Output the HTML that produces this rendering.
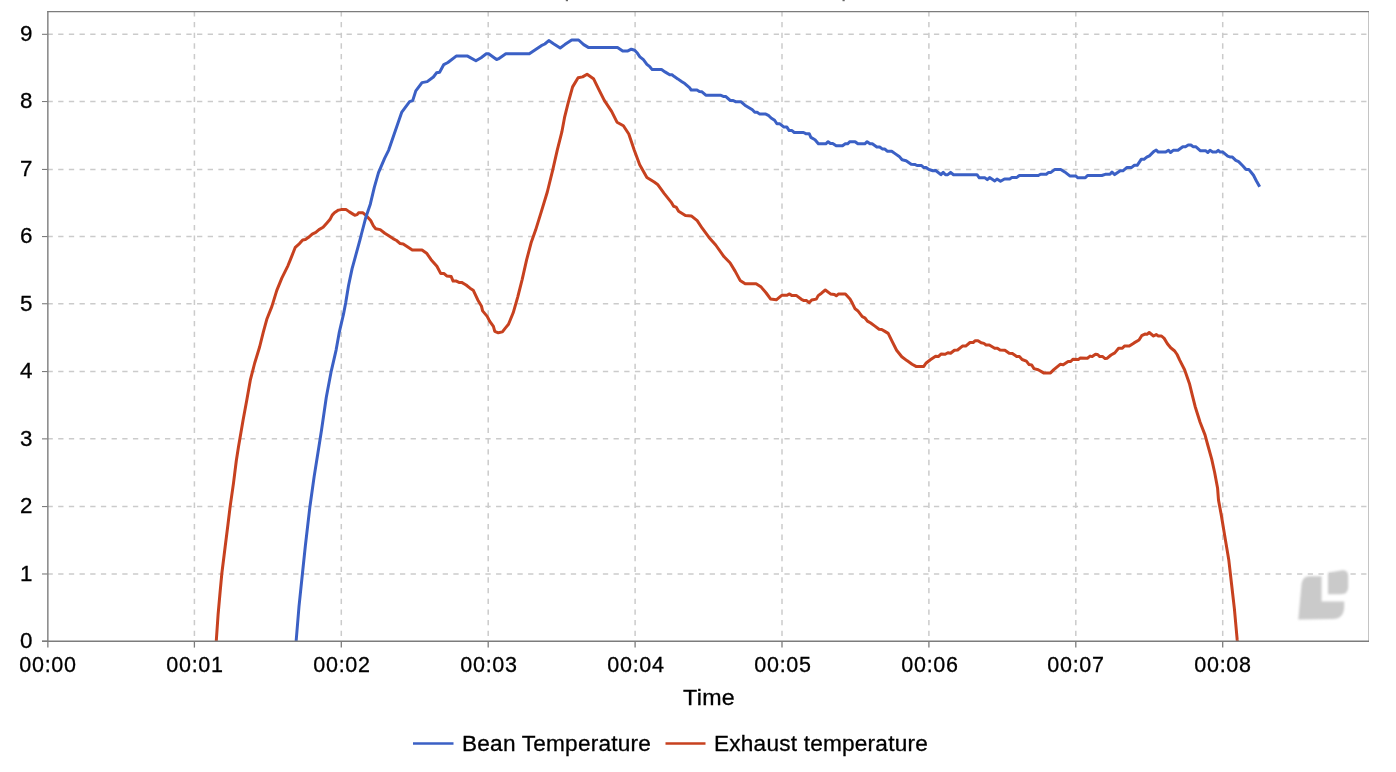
<!DOCTYPE html>
<html><head><meta charset="utf-8"><style>
html,body{margin:0;padding:0;background:#fff;width:1396px;height:772px;overflow:hidden;}
#c{position:relative;width:1396px;height:772px;}
svg{position:absolute;left:0;top:0;}
.t{position:absolute;font-family:"Liberation Sans",sans-serif;font-size:21.5px;color:#000;line-height:22px;white-space:nowrap;will-change:transform;-webkit-text-stroke:0.3px #000;}
.yl{left:0;width:32.5px;text-align:right;transform:scaleX(1.04);transform-origin:32.5px 0;}
.xl{width:100px;text-align:center;letter-spacing:0.7px;}
#time{letter-spacing:0.3px;}
#lg1{letter-spacing:0.2px;transform:scaleX(1.052);transform-origin:0 0;}
#lg2{letter-spacing:0.2px;transform:scaleX(1.052);transform-origin:0 0;}
#time{transform:scaleX(1.08);transform-origin:0 0;}
</style></head><body><div id="c">
<svg width="1396" height="772" viewBox="0 0 1396 772">
<defs><filter id="bl" x="-20%" y="-20%" width="140%" height="140%"><feGaussianBlur stdDeviation="0.8"/></filter></defs>
<g fill="#cacaca" filter="url(#bl)"><path d="M1309,576.2 L1321.6,576.2 L1321.6,601.5 L1344.2,601.5 L1344.2,607.5 Q1343.5,618.8 1333,619 L1298.3,619.5 L1301.6,583.5 Q1302.8,576.4 1309,576.2 Z"/><path d="M1328,572.8 L1341,570.4 Q1348.2,569.6 1348.2,576 L1348.2,587.5 Q1347.8,594.3 1341,594.3 L1328,594.3 Z"/></g>
<line x1="48" y1="573.98" x2="1368" y2="573.98" stroke="#cbcbcb" stroke-width="1.5" stroke-dasharray="5.3 5.38" stroke-dashoffset="0.5"/>
<line x1="48" y1="506.56" x2="1368" y2="506.56" stroke="#cbcbcb" stroke-width="1.5" stroke-dasharray="5.3 5.38" stroke-dashoffset="0.5"/>
<line x1="48" y1="438.86" x2="1368" y2="438.86" stroke="#cbcbcb" stroke-width="1.5" stroke-dasharray="5.3 5.38" stroke-dashoffset="0.5"/>
<line x1="48" y1="371.56" x2="1368" y2="371.56" stroke="#cbcbcb" stroke-width="1.5" stroke-dasharray="5.3 5.38" stroke-dashoffset="0.5"/>
<line x1="48" y1="303.74" x2="1368" y2="303.74" stroke="#cbcbcb" stroke-width="1.5" stroke-dasharray="5.3 5.38" stroke-dashoffset="0.5"/>
<line x1="48" y1="236.56" x2="1368" y2="236.56" stroke="#cbcbcb" stroke-width="1.5" stroke-dasharray="5.3 5.38" stroke-dashoffset="0.5"/>
<line x1="48" y1="169.44" x2="1368" y2="169.44" stroke="#cbcbcb" stroke-width="1.5" stroke-dasharray="5.3 5.38" stroke-dashoffset="0.5"/>
<line x1="48" y1="101.52" x2="1368" y2="101.52" stroke="#cbcbcb" stroke-width="1.5" stroke-dasharray="5.3 5.38" stroke-dashoffset="0.5"/>
<line x1="48" y1="34.32" x2="1368" y2="34.32" stroke="#cbcbcb" stroke-width="1.5" stroke-dasharray="5.3 5.38" stroke-dashoffset="0.5"/>
<line x1="194.40" y1="11.5" x2="194.40" y2="641" stroke="#cbcbcb" stroke-width="1.5" stroke-dasharray="5.3 5.38" stroke-dashoffset="0.2"/>
<line x1="341.30" y1="11.5" x2="341.30" y2="641" stroke="#cbcbcb" stroke-width="1.5" stroke-dasharray="5.3 5.38" stroke-dashoffset="0.2"/>
<line x1="488.20" y1="11.5" x2="488.20" y2="641" stroke="#cbcbcb" stroke-width="1.5" stroke-dasharray="5.3 5.38" stroke-dashoffset="0.2"/>
<line x1="635.10" y1="11.5" x2="635.10" y2="641" stroke="#cbcbcb" stroke-width="1.5" stroke-dasharray="5.3 5.38" stroke-dashoffset="0.2"/>
<line x1="782.00" y1="11.5" x2="782.00" y2="641" stroke="#cbcbcb" stroke-width="1.5" stroke-dasharray="5.3 5.38" stroke-dashoffset="0.2"/>
<line x1="928.90" y1="11.5" x2="928.90" y2="641" stroke="#cbcbcb" stroke-width="1.5" stroke-dasharray="5.3 5.38" stroke-dashoffset="0.2"/>
<line x1="1075.80" y1="11.5" x2="1075.80" y2="641" stroke="#cbcbcb" stroke-width="1.5" stroke-dasharray="5.3 5.38" stroke-dashoffset="0.2"/>
<line x1="1222.70" y1="11.5" x2="1222.70" y2="641" stroke="#cbcbcb" stroke-width="1.5" stroke-dasharray="5.3 5.38" stroke-dashoffset="0.2"/>
<line x1="1368.5" y1="11" x2="1368.5" y2="641" stroke="#c4c4c4" stroke-width="1"/>
<line x1="47.3" y1="11.6" x2="1369" y2="11.6" stroke="#7c7c7c" stroke-width="1.3"/>
<clipPath id="pc"><rect x="47" y="11" width="1322" height="630.3"/></clipPath><g clip-path="url(#pc)">
<path d="M216.2,642.2 L218.1,614.3 L220.1,592.0 L221.8,573.8 L225.1,547.3 L227.9,525.0 L230.1,506.9 L233.5,483.1 L236.3,460.8 L238.5,446.8 L243.1,420.1 L246.8,399.9 L250.3,380.2 L254.7,363.0 L259.6,347.0 L263.3,332.2 L267.0,318.7 L271.9,306.4 L276.8,290.4 L281.8,278.1 L287.9,265.8 L290.4,259.6 L295.3,247.3 L299.5,243.6 L302.7,239.9 L305.4,239.5 L308.6,237.3 L312.2,234.1 L315.8,232.3 L319.0,229.6 L323.1,227.3 L326.7,223.2 L329.9,219.6 L332.2,215.1 L334.4,212.8 L338.5,210.1 L341.2,209.6 L346.2,209.6 L349.4,211.9 L353.0,214.1 L354.8,215.2 L357.1,214.6 L358.5,212.8 L363.0,212.8 L366.6,216.0 L370.7,220.5 L373.4,225.9 L375.7,228.7 L380.2,229.6 L384.8,233.2 L388.4,235.5 L393.0,238.6 L396.6,240.5 L400.2,243.6 L403.2,243.9 L407.8,247.0 L412.3,250.0 L422.0,250.0 L426.6,253.2 L431.1,259.7 L436.9,266.2 L440.8,273.6 L444.1,273.6 L446.7,275.9 L451.2,276.6 L453.1,281.1 L456.4,281.1 L459.0,282.4 L461.6,282.4 L466.1,285.0 L470.0,288.2 L473.2,290.2 L477.8,299.9 L481.4,305.9 L482.6,310.9 L487.2,316.4 L489.6,321.1 L493.4,326.3 L494.8,331.3 L498.3,332.8 L502.4,331.9 L505.3,328.1 L508.5,324.3 L513.2,312.8 L517.7,297.1 L522.2,279.3 L526.6,259.9 L531.1,242.8 L535.6,230.1 L541.1,212.4 L547.3,192.0 L552.7,170.2 L557.2,150.3 L561.8,132.2 L564.5,117.7 L568.1,103.2 L572.6,86.9 L578.1,77.8 L582.6,76.9 L587.1,74.2 L593.5,78.7 L598.9,89.6 L604.3,100.4 L611.6,111.3 L617.0,122.2 L623.4,125.8 L628.8,134.0 L634.3,150.3 L639.7,164.8 L646.9,177.5 L654.2,182.0 L657.6,184.4 L664.3,193.6 L671.1,202.1 L673.6,206.3 L676.1,207.1 L678.6,211.3 L685.4,215.5 L691.3,215.9 L697.2,220.6 L702.2,228.2 L709.0,237.4 L715.7,245.0 L724.1,256.8 L730.0,262.7 L735.1,271.1 L740.1,280.4 L745.2,283.8 L756.1,283.8 L761.2,287.1 L766.2,293.0 L770.5,298.9 L776.3,299.8 L781.4,295.6 L782.6,295.2 L787.1,295.2 L789.1,293.9 L791.7,295.4 L796.2,295.4 L801.4,299.3 L804.0,300.6 L806.6,300.6 L809.1,302.7 L811.7,300.0 L816.3,299.1 L818.2,295.6 L821.5,293.2 L825.3,290.0 L830.5,293.9 L834.4,294.5 L836.3,295.8 L838.3,294.1 L845.4,294.1 L850.0,299.1 L852.5,303.6 L855.1,308.8 L857.7,310.7 L862.3,316.6 L864.8,317.8 L867.4,321.1 L870.7,323.0 L874.6,325.9 L879.1,329.2 L881.7,329.5 L884.9,331.4 L888.2,333.4 L892.0,341.2 L896.6,350.2 L901.8,356.7 L906.9,360.6 L912.1,364.2 L916.0,366.4 L923.8,366.4 L925.9,363.2 L930.7,359.5 L935.6,356.3 L938.3,356.6 L941.0,354.1 L945.2,354.3 L947.9,352.8 L950.6,353.3 L954.4,350.3 L957.6,350.0 L962.4,346.1 L965.7,346.1 L970.0,342.5 L973.2,342.5 L975.3,340.7 L978.0,340.7 L981.2,342.8 L983.9,343.4 L986.1,345.0 L989.3,345.0 L994.7,348.2 L997.4,348.2 L1000.0,350.0 L1004.9,350.3 L1009.2,353.3 L1012.4,353.6 L1016.7,356.5 L1019.4,356.6 L1022.1,359.5 L1026.4,361.1 L1029.1,364.6 L1031.7,364.9 L1033.9,368.6 L1038.2,369.7 L1043.6,372.9 L1050.5,372.9 L1053.8,369.7 L1060.2,364.3 L1063.2,364.7 L1068.1,361.5 L1070.7,361.5 L1072.9,359.3 L1078.3,359.6 L1080.4,357.9 L1087.4,358.2 L1090.1,356.1 L1092.2,356.6 L1095.5,354.3 L1097.6,354.5 L1099.8,356.6 L1102.4,356.4 L1105.1,358.6 L1107.3,358.2 L1111.0,355.0 L1114.8,352.9 L1118.6,348.3 L1122.3,348.3 L1124.5,345.9 L1129.3,346.1 L1134.1,342.9 L1139.0,340.0 L1141.7,335.7 L1144.9,334.1 L1147.0,334.3 L1149.2,332.5 L1153.5,336.0 L1156.2,334.6 L1158.3,336.0 L1161.5,336.0 L1164.2,338.4 L1167.4,343.7 L1170.7,347.8 L1174.4,350.7 L1177.1,354.5 L1179.7,360.1 L1184.6,369.8 L1189.4,383.4 L1192.3,395.1 L1195.2,406.7 L1200.1,422.2 L1205.0,434.9 L1207.9,445.5 L1211.7,459.1 L1214.7,472.7 L1217.6,488.3 L1218.5,500.1 L1221.3,515.1 L1225.0,537.6 L1228.8,560.1 L1231.6,584.5 L1234.4,608.9 L1237.2,639.9 L1237.4,641.6" fill="none" stroke="#c7411f" stroke-width="3" stroke-linejoin="round" stroke-linecap="butt"/>
<path d="M296.1,641.5 L299.0,606.5 L302.5,573.0 L305.4,545.4 L309.8,507.5 L314.1,476.9 L318.5,449.2 L321.5,430.3 L326.3,397.2 L331.2,371.3 L336.1,350.1 L339.2,332.7 L343.5,314.2 L345.7,302.8 L348.5,285.7 L352.1,268.6 L355.6,255.8 L359.9,240.1 L361.2,235.0 L365.7,217.8 L370.3,204.2 L374.3,187.3 L378.5,172.7 L384.7,158.2 L388.7,150.1 L401.8,112.1 L409.6,101.7 L412.7,100.6 L415.8,90.9 L422.0,82.6 L427.2,81.6 L433.4,77.0 L436.5,72.8 L439.6,72.2 L443.8,64.6 L447.9,62.5 L456.2,56.1 L467.6,56.1 L475.9,60.8 L481.1,57.7 L486.3,53.8 L488.6,53.8 L496.6,59.5 L498.3,58.9 L505.8,53.8 L529.3,53.8 L541.3,45.7 L544.8,44.0 L548.8,40.6 L553.9,44.0 L560.2,48.0 L564.8,44.6 L571.7,40.0 L578.6,40.0 L583.7,44.6 L588.3,47.4 L617.5,47.4 L622.7,50.9 L627.9,50.9 L631.3,49.2 L634.7,50.3 L637.0,52.7 L639.9,56.8 L643.4,59.7 L646.9,64.3 L649.8,66.7 L652.2,69.6 L661.5,69.6 L665.0,71.9 L669.7,74.8 L672.0,74.8 L674.3,76.6 L677.8,78.9 L681.9,81.8 L684.8,83.6 L689.5,87.7 L691.2,90.0 L697.0,90.0 L699.4,91.5 L701.7,91.7 L705.8,95.2 L720.4,95.2 L723.3,96.4 L725.6,96.4 L730.3,100.5 L733.2,100.5 L735.5,101.7 L740.8,101.7 L744.9,105.2 L752.4,109.8 L754.8,112.2 L757.1,112.2 L759.4,113.9 L765.3,113.9 L768.8,115.7 L771.1,118.0 L774.6,120.3 L776.9,123.8 L779.9,123.8 L784.0,127.1 L786.9,127.1 L789.2,130.6 L792.0,130.6 L794.3,132.5 L803.5,132.5 L805.8,133.7 L809.2,133.7 L810.9,137.4 L815.0,139.7 L818.4,143.8 L825.8,143.8 L828.1,141.7 L830.4,143.5 L832.7,143.5 L836.2,145.8 L842.5,145.8 L845.3,143.8 L847.6,143.8 L849.9,141.7 L855.1,141.7 L857.9,143.8 L864.8,143.8 L867.1,141.7 L870.0,143.8 L872.3,143.8 L876.8,147.0 L879.7,147.0 L882.6,149.1 L884.9,149.1 L887.2,151.2 L891.7,151.2 L895.8,154.1 L899.2,156.4 L902.1,159.8 L906.1,160.7 L911.2,164.2 L914.7,164.4 L917.0,165.5 L921.5,165.5 L923.8,167.6 L926.1,167.6 L929.0,169.5 L932.9,170.7 L935.7,170.5 L940.9,174.7 L943.2,172.4 L945.5,174.7 L947.8,174.7 L950.6,172.4 L953.5,174.7 L977.0,174.7 L979.3,177.8 L985.0,177.8 L987.3,179.7 L989.6,177.6 L994.8,181.0 L997.0,179.0 L1000.5,181.3 L1004.5,179.0 L1009.7,179.0 L1011.9,177.6 L1016.5,177.6 L1019.4,175.5 L1038.3,175.5 L1040.6,174.2 L1046.3,174.2 L1048.6,172.4 L1050.9,172.4 L1054.9,169.4 L1060.7,169.4 L1064.7,171.9 L1069.8,175.9 L1075.6,175.9 L1077.9,177.8 L1085.3,177.8 L1087.5,175.5 L1101.8,175.5 L1105.2,174.3 L1110.0,174.3 L1112.0,172.1 L1114.7,174.6 L1120.2,170.8 L1122.9,170.8 L1127.0,167.4 L1131.7,167.4 L1134.4,165.3 L1137.2,165.3 L1141.2,159.3 L1144.0,159.3 L1146.7,157.1 L1149.4,155.8 L1154.2,151.2 L1156.2,150.1 L1158.3,152.1 L1165.7,152.1 L1168.5,150.3 L1170.5,152.5 L1173.2,150.3 L1178.0,150.3 L1182.8,146.7 L1185.5,146.7 L1188.2,145.0 L1190.9,145.0 L1193.0,146.7 L1195.7,146.7 L1200.5,150.8 L1205.9,150.8 L1207.9,152.5 L1210.0,150.3 L1212.7,152.1 L1216.1,152.1 L1218.2,150.3 L1220.2,152.1 L1222.9,152.1 L1227.7,156.2 L1230.4,157.1 L1232.4,157.1 L1235.8,160.3 L1238.6,161.6 L1242.7,165.7 L1246.1,169.4 L1248.8,169.4 L1253.5,175.3 L1256.3,180.7 L1259.7,186.8" fill="none" stroke="#3b60c5" stroke-width="3" stroke-linejoin="round" stroke-linecap="butt"/>
</g>
<line x1="47.85" y1="11" x2="47.85" y2="641" stroke="#7c7c7c" stroke-width="1.4"/>
<line x1="42" y1="641.2" x2="1369" y2="641.2" stroke="#7c7c7c" stroke-width="1.5"/>
<line x1="42" y1="641.20" x2="47.5" y2="641.20" stroke="#7c7c7c" stroke-width="1.1"/>
<line x1="42" y1="573.98" x2="47.5" y2="573.98" stroke="#7c7c7c" stroke-width="1.1"/>
<line x1="42" y1="506.56" x2="47.5" y2="506.56" stroke="#7c7c7c" stroke-width="1.1"/>
<line x1="42" y1="438.86" x2="47.5" y2="438.86" stroke="#7c7c7c" stroke-width="1.1"/>
<line x1="42" y1="371.56" x2="47.5" y2="371.56" stroke="#7c7c7c" stroke-width="1.1"/>
<line x1="42" y1="303.74" x2="47.5" y2="303.74" stroke="#7c7c7c" stroke-width="1.1"/>
<line x1="42" y1="236.56" x2="47.5" y2="236.56" stroke="#7c7c7c" stroke-width="1.1"/>
<line x1="42" y1="169.44" x2="47.5" y2="169.44" stroke="#7c7c7c" stroke-width="1.1"/>
<line x1="42" y1="101.52" x2="47.5" y2="101.52" stroke="#7c7c7c" stroke-width="1.1"/>
<line x1="42" y1="34.32" x2="47.5" y2="34.32" stroke="#7c7c7c" stroke-width="1.1"/>
<line x1="47.85" y1="641" x2="47.85" y2="647.6" stroke="#7c7c7c" stroke-width="1.3"/>
<line x1="194.40" y1="641" x2="194.40" y2="647.6" stroke="#7c7c7c" stroke-width="1.3"/>
<line x1="341.30" y1="641" x2="341.30" y2="647.6" stroke="#7c7c7c" stroke-width="1.3"/>
<line x1="488.20" y1="641" x2="488.20" y2="647.6" stroke="#7c7c7c" stroke-width="1.3"/>
<line x1="635.10" y1="641" x2="635.10" y2="647.6" stroke="#7c7c7c" stroke-width="1.3"/>
<line x1="782.00" y1="641" x2="782.00" y2="647.6" stroke="#7c7c7c" stroke-width="1.3"/>
<line x1="928.90" y1="641" x2="928.90" y2="647.6" stroke="#7c7c7c" stroke-width="1.3"/>
<line x1="1075.80" y1="641" x2="1075.80" y2="647.6" stroke="#7c7c7c" stroke-width="1.3"/>
<line x1="1222.70" y1="641" x2="1222.70" y2="647.6" stroke="#7c7c7c" stroke-width="1.3"/>
<line x1="413" y1="743.5" x2="453.5" y2="743.5" stroke="#3b60c5" stroke-width="2.7"/>
<line x1="665.5" y1="743.5" x2="705.5" y2="743.5" stroke="#c7411f" stroke-width="2.7"/>
<rect x="565.8" y="0" width="2.2" height="1.2" fill="#666"/>
<rect x="842.5" y="0" width="2.2" height="1.2" fill="#666"/>
</svg>
<div class="t yl" style="top:630.05px">0</div>
<div class="t yl" style="top:562.83px">1</div>
<div class="t yl" style="top:495.41px">2</div>
<div class="t yl" style="top:427.71px">3</div>
<div class="t yl" style="top:360.41px">4</div>
<div class="t yl" style="top:292.59px">5</div>
<div class="t yl" style="top:225.41px">6</div>
<div class="t yl" style="top:158.29px">7</div>
<div class="t yl" style="top:90.37px">8</div>
<div class="t yl" style="top:23.17px">9</div>
<div class="t xl" style="left:-1.90px;top:654.25px">00:00</div>
<div class="t xl" style="left:145.00px;top:654.25px">00:01</div>
<div class="t xl" style="left:291.90px;top:654.25px">00:02</div>
<div class="t xl" style="left:438.80px;top:654.25px">00:03</div>
<div class="t xl" style="left:585.70px;top:654.25px">00:04</div>
<div class="t xl" style="left:732.60px;top:654.25px">00:05</div>
<div class="t xl" style="left:879.50px;top:654.25px">00:06</div>
<div class="t xl" style="left:1026.40px;top:654.25px">00:07</div>
<div class="t xl" style="left:1173.30px;top:654.25px">00:08</div>
<div class="t" id="time" style="left:683.00px;top:686.95px">Time</div>
<div class="t" id="lg1" style="left:462.30px;top:732.55px">Bean Temperature</div>
<div class="t" id="lg2" style="left:713.80px;top:732.55px">Exhaust temperature</div>
</div></body></html>
